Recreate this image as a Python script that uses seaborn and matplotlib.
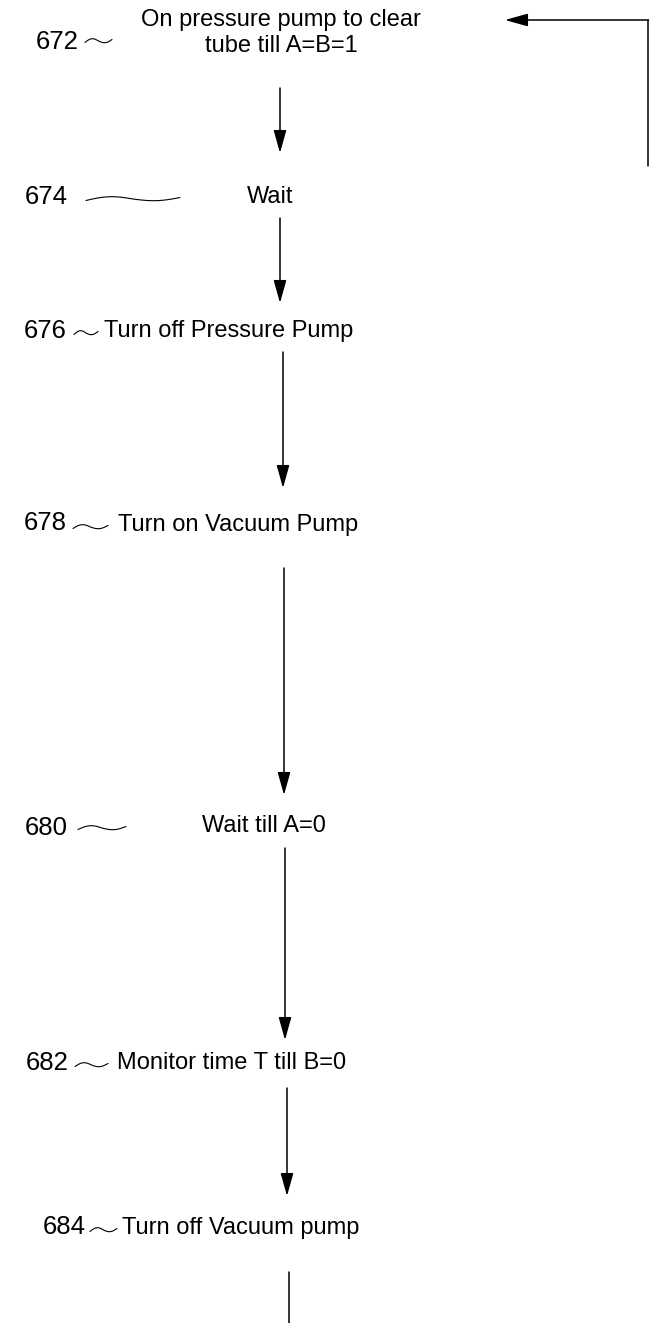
import numpy as np
import matplotlib
matplotlib.use("Agg")
import matplotlib.pyplot as plt
import seaborn as sns

# ---- content ----
step_ids = ["672", "674", "676", "678", "680", "682", "684"]
step_texts = [
    "On pressure pump to clear\ntube till A=B=1",
    "Wait",
    "Turn off Pressure Pump",
    "Turn on Vacuum Pump",
    "Wait till A=0",
    "Monitor time T till B=0",
    "Turn off Vacuum pump",
]

# ---- layout (pixel coordinates, y downward) ----
text_x = [281, 270, 104, 118, 264, 117, 122]
text_ha = ["center", "center", "left", "left", "center", "left", "left"]
text_y = [33, 197, 331, 525, 826, 1063, 1228]
id_x = [57, 46, 45, 45, 46, 47, 64]
id_y = [42, 197, 331, 523, 828, 1063, 1227]
sq_x0 = [85, 86, 74, 73, 78, 75, 90]
sq_x1 = [112, 180, 98, 108, 126, 108, 117]
sq_y = [41, 199, 333, 527, 828, 1065, 1230]
arrows = [  # x, y_start, y_end
    (280, 88, 153),
    (280, 218, 303),
    (283, 352, 488),
    (284, 568, 795),
    (285, 848, 1040),
    (287, 1088, 1196),
]
tail_line = (289, 1272, 1323)

W, H = 651, 1323
sns.set_theme(style="white")
plt.rcParams["font.family"] = ["Liberation Sans", "DejaVu Sans"]

fig = plt.figure(figsize=(W / 100, H / 100), dpi=100)
ax = fig.add_axes([0, 0, 1, 1])
ax.set_xlim(0, W)
ax.set_ylim(H, 0)
ax.axis("off")

fs = 17
fs_id = 18.5
for i in range(len(step_ids)):
    ax.text(text_x[i], text_y[i], step_texts[i], ha=text_ha[i], va="center",
            fontsize=fs, color="black", linespacing=1.25, multialignment="center")
    ax.text(id_x[i], id_y[i], step_ids[i], ha="center",
            va="center", fontsize=fs_id, color="black")
    t = np.linspace(0, 1, 50)
    xs = sq_x0[i] + t * (sq_x1[i] - sq_x0[i])
    ys = sq_y[i] - 3.0 * np.sin(2 * np.pi * t) * np.where(t < 0.5, 1.0, 0.8) - 3.0 * (t - 0.5)
    ax.plot(xs, ys, color="black", lw=0.8)

for x, y0, y1 in arrows:
    ax.annotate("", xy=(x, y1), xytext=(x, y0),
                arrowprops=dict(arrowstyle="-|>,head_length=1.0,head_width=0.28",
                                mutation_scale=14, color="black", lw=1.1,
                                shrinkA=0, shrinkB=0))

ax.plot([tail_line[0], tail_line[0]], [tail_line[1], tail_line[2]], color="black", lw=1.1)

# feedback arrow at top right
ax.plot([648, 648], [20, 166], color="black", lw=1.1)
ax.annotate("", xy=(505, 20), xytext=(648.5, 20),
            arrowprops=dict(arrowstyle="-|>,head_length=1.0,head_width=0.28",
                            mutation_scale=14, color="black", lw=1.1,
                            shrinkA=0, shrinkB=0))

fig.savefig("out.png", dpi=100, facecolor="white")
